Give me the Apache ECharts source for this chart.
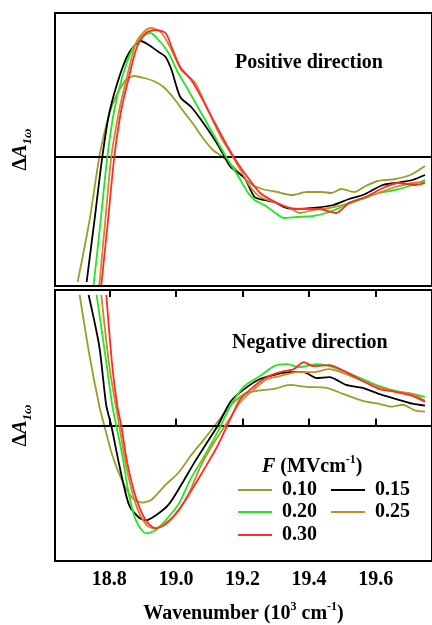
<!DOCTYPE html>
<html>
<head>
<meta charset="utf-8">
<script src="https://cdn.jsdelivr.net/npm/echarts@6/dist/echarts.min.js"></script>
<style>
html,body{margin:0;padding:0;background:#fff;}
#chart{width:432px;height:625px;}
</style>
</head>
<body>
<div id="chart"></div>
<script>
// ---- Data (wavenumber in 10^3 cm^-1, ΔA in arbitrary units) ----
const fieldNames = ['0.10', '0.15', '0.20', '0.25', '0.30'];
const tickValues = [18.8, 19.0, 19.2, 19.4, 19.6];

// Positive direction panel
const pos010 = [[18.705,-1.25],[18.741,-0.63],[18.770,0],[18.791,0.32],[18.809,0.52],[18.830,0.67],[18.850,0.77],[18.874,0.81],[18.904,0.79],[18.933,0.76],[18.963,0.70],[18.993,0.59],[19.022,0.46],[19.052,0.33],[19.081,0.19],[19.111,0.07],[19.141,0.0],[19.170,-0.09],[19.200,-0.19],[19.230,-0.28],[19.259,-0.32],[19.304,-0.35],[19.348,-0.38],[19.393,-0.35],[19.437,-0.35],[19.467,-0.36],[19.496,-0.32],[19.535,-0.35],[19.570,-0.29],[19.606,-0.24],[19.659,-0.22],[19.704,-0.18],[19.748,-0.09]];
const pos015 = [[18.732,-1.25],[18.756,-0.62],[18.779,0],[18.800,0.44],[18.830,0.80],[18.859,1.04],[18.895,1.16],[18.919,1.12],[18.948,1.05],[18.969,1.00],[18.987,0.87],[19.013,0.60],[19.046,0.50],[19.076,0.37],[19.117,0.17],[19.147,0],[19.164,-0.10],[19.206,-0.21],[19.236,-0.40],[19.265,-0.43],[19.295,-0.45],[19.333,-0.51],[19.363,-0.52],[19.413,-0.51],[19.473,-0.48],[19.520,-0.42],[19.561,-0.38],[19.621,-0.28],[19.659,-0.26],[19.710,-0.23],[19.748,-0.18]];
const pos020 = [[18.753,-1.28],[18.774,-0.64],[18.794,0],[18.815,0.47],[18.839,0.80],[18.868,1.07],[18.898,1.20],[18.924,1.24],[18.948,1.17],[18.978,1.04],[19.007,0.84],[19.037,0.67],[19.076,0.44],[19.117,0.20],[19.156,-0.03],[19.185,-0.18],[19.215,-0.35],[19.236,-0.43],[19.265,-0.48],[19.295,-0.55],[19.324,-0.61],[19.363,-0.60],[19.413,-0.59],[19.461,-0.55],[19.511,-0.48],[19.561,-0.42],[19.609,-0.36],[19.659,-0.33],[19.710,-0.28],[19.748,-0.23]];
const pos025 = [[18.770,-1.28],[18.788,-0.64],[18.806,0],[18.830,0.47],[18.853,0.80],[18.880,1.14],[18.910,1.27],[18.927,1.29],[18.957,1.24],[18.987,1.07],[19.016,0.87],[19.058,0.74],[19.096,0.47],[19.135,0.20],[19.164,0.04],[19.194,-0.13],[19.224,-0.30],[19.253,-0.40],[19.295,-0.45],[19.342,-0.51],[19.372,-0.56],[19.413,-0.53],[19.461,-0.51],[19.511,-0.47],[19.561,-0.41],[19.609,-0.36],[19.659,-0.30],[19.710,-0.26],[19.748,-0.25]];
const pos030 = [[18.776,-1.28],[18.796,-0.64],[18.815,0],[18.836,0.47],[18.859,0.80],[18.883,1.10],[18.910,1.24],[18.939,1.27],[18.969,1.24],[18.987,1.10],[19.013,0.90],[19.046,0.77],[19.076,0.60],[19.117,0.34],[19.156,0.10],[19.185,-0.06],[19.215,-0.20],[19.253,-0.36],[19.304,-0.46],[19.342,-0.51],[19.384,-0.52],[19.431,-0.52],[19.481,-0.56],[19.520,-0.46],[19.570,-0.40],[19.621,-0.31],[19.668,-0.26],[19.719,-0.28],[19.748,-0.26]];

// Negative direction panel
const neg010 = [[18.711,1.32],[18.741,0.70],[18.770,0.20],[18.785,0],[18.809,-0.30],[18.839,-0.56],[18.868,-0.73],[18.898,-0.78],[18.927,-0.75],[18.969,-0.60],[19.007,-0.48],[19.046,-0.30],[19.087,-0.13],[19.126,0.04],[19.164,0.20],[19.206,0.32],[19.244,0.35],[19.295,0.37],[19.342,0.41],[19.393,0.39],[19.452,0.38],[19.502,0.32],[19.561,0.25],[19.609,0.22],[19.650,0.19],[19.680,0.21],[19.719,0.15],[19.748,0.14]];
const neg015 = [[18.738,1.32],[18.770,0.80],[18.791,0.20],[18.806,0],[18.830,-0.40],[18.859,-0.80],[18.889,-0.93],[18.910,-0.96],[18.939,-0.91],[18.978,-0.80],[19.016,-0.60],[19.058,-0.36],[19.096,-0.16],[19.126,0],[19.164,0.24],[19.206,0.37],[19.253,0.47],[19.304,0.52],[19.342,0.54],[19.384,0.54],[19.422,0.48],[19.461,0.49],[19.511,0.41],[19.561,0.38],[19.609,0.32],[19.659,0.27],[19.710,0.22],[19.748,0.20]];
const neg020 = [[18.762,1.32],[18.791,0.64],[18.809,0.20],[18.821,0],[18.839,-0.30],[18.859,-0.70],[18.880,-0.96],[18.910,-1.09],[18.939,-1.06],[18.969,-0.96],[19.007,-0.80],[19.046,-0.53],[19.087,-0.30],[19.126,-0.06],[19.164,0.20],[19.206,0.40],[19.253,0.50],[19.295,0.60],[19.333,0.62],[19.372,0.59],[19.422,0.62],[19.461,0.60],[19.511,0.54],[19.561,0.47],[19.609,0.40],[19.659,0.35],[19.710,0.32],[19.748,0.29]];
const neg025 = [[18.776,1.32],[18.800,0.60],[18.821,0.17],[18.830,0],[18.850,-0.40],[18.880,-0.80],[18.910,-1.00],[18.933,-1.04],[18.957,-1.01],[18.999,-0.90],[19.037,-0.70],[19.076,-0.40],[19.117,-0.16],[19.156,0.04],[19.194,0.24],[19.236,0.37],[19.274,0.47],[19.313,0.50],[19.363,0.54],[19.413,0.54],[19.461,0.57],[19.511,0.52],[19.561,0.45],[19.609,0.39],[19.659,0.34],[19.710,0.32],[19.748,0.25]];
const neg030 = [[18.791,1.32],[18.809,0.60],[18.824,0.20],[18.836,0],[18.853,-0.36],[18.880,-0.73],[18.910,-0.96],[18.939,-1.04],[18.969,-1.00],[19.007,-0.86],[19.046,-0.66],[19.087,-0.43],[19.126,-0.20],[19.164,0.07],[19.194,0.27],[19.236,0.40],[19.274,0.49],[19.313,0.54],[19.354,0.57],[19.384,0.64],[19.413,0.60],[19.461,0.61],[19.511,0.54],[19.561,0.45],[19.609,0.37],[19.659,0.34],[19.710,0.30],[19.748,0.24]];

const posData = [pos010, pos015, pos020, pos025, pos030];
const negData = [neg010, neg015, neg020, neg025, neg030];
const colors = ['#9c9c2c', '#000000', '#22e622', '#cc8a28', '#ff2a2a'];

const X_MIN = 18.637, X_MAX = 19.769;
const FONT = '"Liberation Serif", "Times New Roman", serif';

const chart = echarts.init(document.getElementById('chart'), null, {renderer: 'canvas'});

function makeSeries(dataList, idx) {
  return dataList.map((d, i) => {
    const s = {
      name: fieldNames[i],
      type: 'line',
      xAxisIndex: idx === 0 ? 0 : 1,
      yAxisIndex: idx,
      data: d,
      symbol: 'none',
      smooth: 0.25,
      clip: true,
      lineStyle: {color: colors[i], width: 1.8},
      itemStyle: {color: colors[i]},
      emphasis: {disabled: true},
      z: 3 + i
    };
    if (i === 0) {
      s.markLine = {
        silent: true, symbol: 'none', animation: false,
        label: {show: false},
        lineStyle: {color: '#000', width: 2, type: 'solid'},
        emphasis: {disabled: true},
        data: [{yAxis: 0}]
      };
    }
    return s;
  });
}

const yNameStyle = {
  fontFamily: FONT, fontSize: 20, fontWeight: 'bold', color: '#000',
  rich: {
    d: {fontFamily: FONT, fontSize: 20, fontWeight: 'bold', color: '#000', lineHeight: 26},
    a: {fontFamily: FONT, fontSize: 20, fontWeight: 'bold', fontStyle: 'italic', color: '#000', lineHeight: 26},
    s: {fontFamily: FONT, fontSize: 13, fontWeight: 'bold', fontStyle: 'italic', color: '#000', lineHeight: 13, verticalAlign: 'bottom'}
  }
};
const yName = '{d|Δ}{a|A}{s|1ω}';

const legendText = {fontFamily: FONT, fontSize: 20, fontWeight: 'bold', color: '#000', padding: [0, 0, 0, 5]};
function legendRow(names, top) {
  return {
    data: names, left: 238, top: top, orient: 'horizontal', padding: 0,
    itemWidth: 34, itemHeight: 2, itemGap: 14,
    selectedMode: false, textStyle: legendText, icon: 'rect'
  };
}

const supRich = {
  n: {fontFamily: FONT, fontSize: 20, fontWeight: 'bold', color: '#000', lineHeight: 26},
  p: {fontFamily: FONT, fontSize: 12, fontWeight: 'bold', color: '#000', lineHeight: 12, verticalAlign: 'top'}
};

const option = {
  animation: false,
  backgroundColor: '#fff',
  grid: [
    {left: 55, top: 13, width: 382, height: 273, show: true, borderColor: '#000', borderWidth: 2, backgroundColor: 'transparent'},
    {left: 55, top: 290, width: 382, height: 274, show: true, borderColor: '#000', borderWidth: 2, backgroundColor: 'transparent'}
  ],
  xAxis: [
    {gridIndex: 0, type: 'value', min: X_MIN, max: X_MAX,
     axisLine: {show: false}, axisTick: {show: false}, axisLabel: {show: false}, splitLine: {show: false}},
    {gridIndex: 1, type: 'value', min: X_MIN, max: X_MAX, position: 'bottom',
     axisLine: {show: false},
     axisTick: {show: true, inside: true, length: 7, customValues: tickValues, lineStyle: {color: '#000', width: 2}},
     axisLabel: {show: true, customValues: tickValues, formatter: v => v.toFixed(1), margin: 9,
                 fontFamily: FONT, fontSize: 20, fontWeight: 'bold', color: '#000'},
     splitLine: {show: false},
     name: '{n|Wavenumber (10}{p|3}{n| cm}{p|-1}{n|)}', nameLocation: 'middle', nameGap: 40,
     nameTextStyle: {fontFamily: FONT, fontSize: 20, fontWeight: 'bold', color: '#000', rich: supRich}},
    {gridIndex: 1, type: 'value', min: X_MIN, max: X_MAX, position: 'top',
     axisLine: {show: false},
     axisTick: {show: true, inside: true, length: 7, customValues: tickValues, lineStyle: {color: '#000', width: 2}},
     axisLabel: {show: false}, splitLine: {show: false}}
  ],
  yAxis: [
    {gridIndex: 0, type: 'value', min: -1.29, max: 1.44,
     axisLine: {show: false}, axisTick: {show: false}, axisLabel: {show: false}, splitLine: {show: false},
     name: yName, nameLocation: 'middle', nameGap: 21, nameTextStyle: yNameStyle},
    {gridIndex: 1, type: 'value', min: -1.37, max: 1.37,
     axisLine: {show: false}, axisTick: {show: false}, axisLabel: {show: false}, splitLine: {show: false},
     name: yName, nameLocation: 'middle', nameGap: 21, nameTextStyle: yNameStyle}
  ],
  legend: [
    legendRow(['0.10', '0.15'], 480),
    legendRow(['0.20', '0.25'], 502),
    legendRow(['0.30'], 525)
  ],
  graphic: [
    {type: 'text', left: 235, top: 53, z: 10,
     style: {text: 'Positive direction', font: 'bold 20px ' + FONT, fill: '#000'}},
    {type: 'text', left: 232, top: 333, z: 10,
     style: {text: 'Negative direction', font: 'bold 20px ' + FONT, fill: '#000'}},
    {type: 'text', left: 262, top: 454, z: 10,
     style: {
       text: '{i|F} {n|(MVcm}{p|-1}{n|)}',
       rich: {
         i: {fontFamily: FONT, fontSize: 20, fontWeight: 'bold', fontStyle: 'italic', fill: '#000', lineHeight: 26},
         n: {fontFamily: FONT, fontSize: 20, fontWeight: 'bold', fill: '#000', lineHeight: 26},
         p: {fontFamily: FONT, fontSize: 12, fontWeight: 'bold', fill: '#000', lineHeight: 12, verticalAlign: 'top'}
       },
       font: 'bold 20px ' + FONT, fill: '#000'
     }}
  ],
  series: [].concat(makeSeries(posData, 0), makeSeries(negData, 1))
};

chart.setOption(option);
</script>
</body>
</html>
